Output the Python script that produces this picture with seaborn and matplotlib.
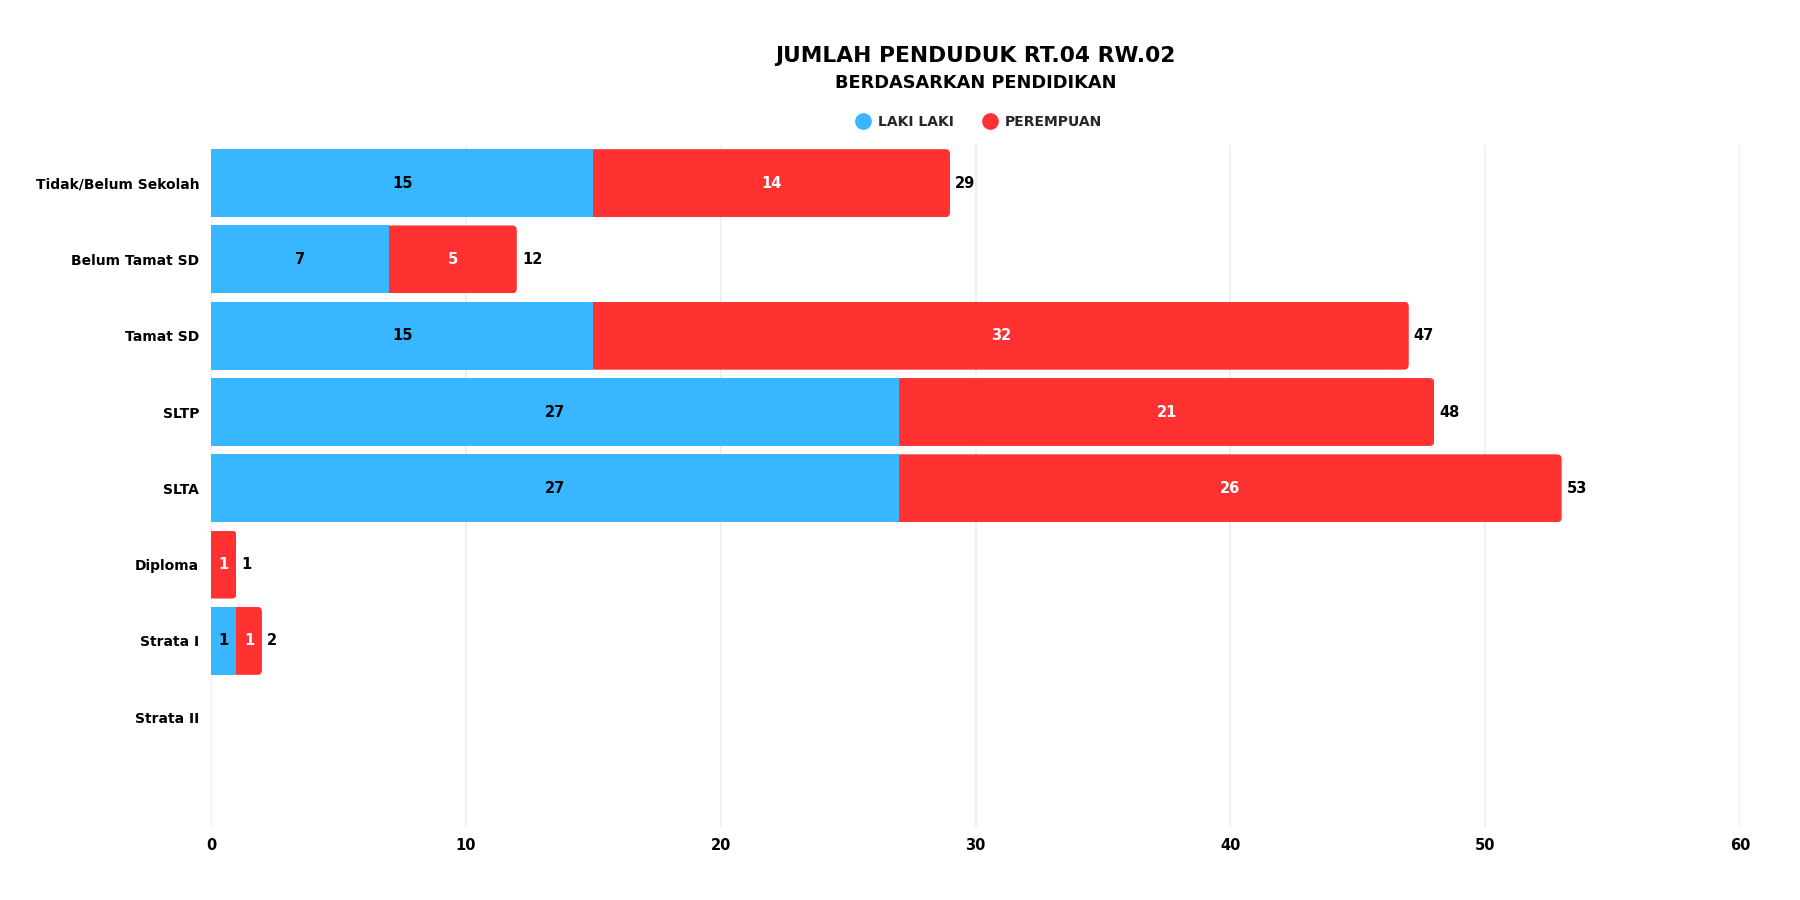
import matplotlib
matplotlib.use("Agg")
import matplotlib.pyplot as plt
import seaborn as sns
import pandas as pd
from matplotlib.patches import FancyBboxPatch
from matplotlib.lines import Line2D

# ---- data ----
categories = ["Tidak/Belum Sekolah", "Belum Tamat SD", "Tamat SD", "SLTP",
              "SLTA", "Diploma", "Strata I", "Strata II"]
laki_laki = [15, 7, 15, 27, 27, 0, 1, 0]
perempuan = [14, 5, 32, 21, 26, 1, 1, 0]
x_ticks = [0, 10, 20, 30, 40, 50, 60]

title = "JUMLAH PENDUDUK RT.04 RW.02"
subtitle = "BERDASARKAN PENDIDIKAN"
series_names = ["LAKI LAKI", "PEREMPUAN"]

BLUE = "#38B6FF"
RED = "#FF3131"

df = pd.DataFrame({"kategori": categories, "laki": laki_laki, "perempuan": perempuan})
df["total"] = df["laki"] + df["perempuan"]

sns.set_theme(style="white")
FONT = "DejaVu Sans"
plt.rcParams["font.family"] = [FONT]

fig = plt.figure(figsize=(18, 9), dpi=100)
ax = fig.add_axes([0.1172, 0.0811, 0.9667 - 0.1172, 0.8389 - 0.0811])

W = 0.89
sns.barplot(data=df, x="total", y="kategori", order=categories, color=RED,
            saturation=1, width=W, errorbar=None, orient="h", ax=ax, linewidth=0)
n_red = len(ax.patches)
sns.barplot(data=df, x="laki", y="kategori", order=categories, color=BLUE,
            saturation=1, width=W, errorbar=None, orient="h", ax=ax, linewidth=0)

ax.set_xlim(0, 60)
ax.set_ylim(8.44, -0.5)

# round the right end of the red (outer) bars
px_x = (0.9667 - 0.1172) * 1800 / 60.0
px_y = (0.8389 - 0.0811) * 900 / 9.94
rad_px = 4.5
aspect = px_x / px_y
for p in ax.patches[:n_red]:
    x0, y0 = p.get_x(), p.get_y()
    w, h = p.get_width(), p.get_height()
    if w <= 0:
        continue
    ext = 0.5
    clip = FancyBboxPatch((x0 - ext, y0), w + ext, h,
                          boxstyle=f"round,pad=0,rounding_size={rad_px / px_x}",
                          mutation_aspect=aspect, transform=ax.transData,
                          facecolor="none", edgecolor="none")
    p.set_clip_path(clip)

# labels
for i in range(len(categories)):
    l = laki_laki[i]
    r = perempuan[i]
    t = l + r
    if l > 0:
        ax.text(l / 2, i, str(l), ha="center", va="center", color="black",
                fontsize=10.5, fontweight="bold")
    if r > 0:
        ax.text(l + r / 2, i, str(r), ha="center", va="center", color="white",
                fontsize=10.5, fontweight="bold")
    if t > 0:
        ax.text(t + 0.2, i, str(t), ha="left", va="center", color="black",
                fontsize=10.5, fontweight="bold")

ax.set_xticks(x_ticks)
ax.set_xticklabels([str(v) for v in x_ticks])
ax.set_xlabel("")
ax.set_ylabel("")
ax.grid(axis="x", color="#EBEBEB", linewidth=1.1)
ax.grid(axis="y", visible=False)
ax.set_axisbelow(True)
for s in ax.spines.values():
    s.set_visible(False)
ax.tick_params(axis="both", length=0)
ax.tick_params(axis="y", pad=8.5)
ax.tick_params(axis="x", pad=8)
for lab in ax.get_yticklabels():
    lab.set_fontsize(10)
    lab.set_fontweight("bold")
    lab.set_color("black")
for lab in ax.get_xticklabels():
    lab.set_fontsize(10.5)
    lab.set_fontweight("bold")
    lab.set_color("black")

cx = 0.542
fig.text(cx, 1 - 56 / 900, title, ha="center", va="center", fontsize=15.7,
         fontweight="bold", color="black")
fig.text(cx, 1 - 83 / 900, subtitle, ha="center", va="center", fontsize=12.8,
         fontweight="bold", color="black")

handles = [Line2D([], [], marker="o", linestyle="none", markersize=11,
                  markerfacecolor=c, markeredgecolor=c) for c in (BLUE, RED)]
fig.legend(handles, series_names, loc="center", bbox_to_anchor=(cx, 1 - 122 / 900),
           ncol=2, frameon=False, handletextpad=0.1, columnspacing=1.6,
           prop={"family": FONT, "weight": "bold", "size": 10})

fig.savefig("out.png", dpi=100, facecolor="white")
